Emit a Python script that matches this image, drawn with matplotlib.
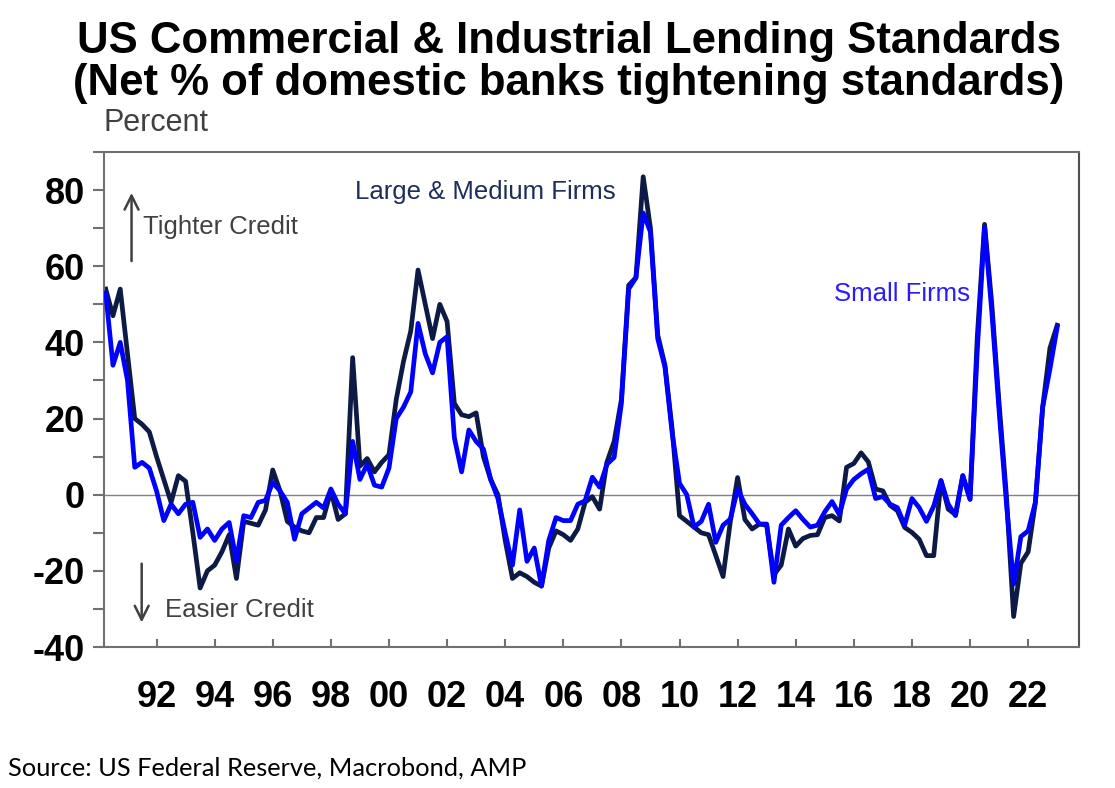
import matplotlib
matplotlib.use("Agg")
import matplotlib.pyplot as plt
import numpy as np

plt.rcParams['font.family'] = ['Liberation Sans', 'DejaVu Sans']
plt.rcParams['axes.unicode_minus'] = False

# Quarterly survey dates, starting 1990 Q2
start_year = 1990.25
large_medium = [54, 47, 54, 37, 20, 18.5, 16.5, 10, 4, -2,
                5, 3.5, -10, -24.5, -20, -18.5, -15, -10.5, -22, -7,
                -7.5, -8, -4, 6.5, 1, -7, -8.5, -9.5, -10, -6,
                -6, 1, -6.5, -5, 36, 7.5, 9.5, 6, 8.5, 10.5,
                25, 35, 43, 59, 50, 41, 50, 45.5, 24, 21,
                20.5, 21.5, 10, 4, 0, -12, -22, -20.5, -21.5, -23,
                -24, -14, -9.5, -10.5, -12, -9, -2, -0.5, -3.8, 8.5,
                14, 25, 55, 57, 83.5, 70, 42, 34, 17, -5.5,
                -7, -8.5, -10, -10.5, -16, -21.5, -7, 4.5, -6.5, -9,
                -7.7, -8, -21, -18.5, -9, -13.5, -11.5, -10.7, -10.5, -6,
                -5.5, -6.9, 7.2, 8.2, 11, 8.6, 1.5, 1, -2.8, -4.2,
                -8.6, -9.9, -11.7, -16, -16, 3.7, -3.8, -5.2, 5, -1.2,
                41.6, 71, 50, 24, 0, -32, -18, -15, -2, 23,
                38.5, 44.5]
small = [53, 34, 40, 30, 7.2, 8.5, 7, 1, -6.8, -2.5,
         -5, -2.5, -2, -11.2, -9, -12, -9, -7.3, -17.4, -5.5,
         -6, -2, -1.5, 3.2, 1, -2, -11.7, -5, -3.5, -2,
         -3.5, 1.5, -2.5, -5, 14, 4, 8, 2.5, 2, 7,
         20, 23, 27, 45, 37, 32, 40, 41.5, 15, 6,
         17, 14, 12, 4, -1, -10, -18.5, -4, -17.5, -14,
         -24, -12, -6, -6.8, -6.8, -2.5, -1.6, 4.6, 2, 8,
         9.8, 24, 54, 57, 74, 69, 41, 33.5, 16, 3,
         0, -8.5, -7, -2.5, -12.5, -8, -6.4, 1.5, -2.5, -5,
         -7.7, -7.7, -23, -8, -6, -4.2, -6.5, -8.5, -8, -4.5,
         -1.8, -5.2, 1.5, 4, 5.5, 6.7, -1, -0.5, -2.5, -3.4,
         -8, -1, -3.4, -7, -3, 3.7, -2.5, -5.5, 5, -1.2,
         38, 70.3, 48, 22, -2, -23.5, -11, -9.5, -2, 23,
         33, 44]
dates = start_year + 0.25 * np.arange(len(large_medium))

x_ticks = list(range(1992, 2023, 2))
x_labels = [f"{y % 100:02d}" for y in x_ticks]
y_major = [-40, -20, 0, 20, 40, 60, 80]
y_minor = list(range(-30, 91, 20))

fig = plt.figure(figsize=(11.15, 7.88), dpi=100)
ax = fig.add_axes([0.0935, 0.1789, 0.8742, 0.6282])

ax.axhline(0, color='#808080', lw=1.0, zorder=1)
ax.plot(dates, large_medium, color='#0c1a45', lw=3.4, zorder=2, solid_joinstyle='round')
ax.plot(dates, small, color='#0000ff', lw=3.4, zorder=3, solid_joinstyle='round')

ax.set_xlim(1990.2, 2023.75)
ax.set_ylim(-40, 90)
ax.set_xticks(x_ticks)
ax.set_xticklabels(x_labels)
ax.set_yticks(y_major)
ax.set_yticklabels([str(v) for v in y_major])
ax.set_yticks(y_minor, minor=True)

for s in ax.spines.values():
    s.set_color('#707070')
    s.set_linewidth(1.5)
ax.spines['right'].set_color('#505050')

ax.tick_params(axis='x', direction='in', length=6, width=1.5, color='#707070',
               pad=24, labelsize=26)
ax.tick_params(axis='y', which='both', direction='out', length=8, width=1.5,
               color='#707070', pad=6, labelsize=26)
for lab in ax.get_xticklabels() + ax.get_yticklabels():
    lab.set_fontweight('bold')

# annotations
ax.annotate('', xy=(0.028, 0.923), xytext=(0.028, 0.774), xycoords='axes fraction',
            arrowprops=dict(arrowstyle='->', color='#404040', lw=1.8, mutation_scale=25))
ax.annotate('', xy=(0.0384, 0.044), xytext=(0.0384, 0.174), xycoords='axes fraction',
            arrowprops=dict(arrowstyle='->', color='#404040', lw=1.8, mutation_scale=25))
ax.text(0.0397, 0.848, 'Tighter Credit', transform=ax.transAxes, fontsize=18.5,
        color='#404040', va='center', ha='left')
ax.text(0.0623, 0.075, 'Easier Credit', transform=ax.transAxes, fontsize=18.5,
        color='#404040', va='center', ha='left')
ax.text(0.257, 0.919, 'Large & Medium Firms', transform=ax.transAxes, fontsize=18.5,
        color='#1f2d5c', va='center', ha='left')
ax.text(0.749, 0.713, 'Small Firms', transform=ax.transAxes, fontsize=18.5,
        color='#2a1aff', va='center', ha='left')

fig.text(0.510, 0.947, 'US Commercial & Industrial Lending Standards', ha='center',
         va='center', fontsize=31.5, fontweight='bold', color='black')
fig.text(0.510, 0.894, '(Net % of domestic banks tightening standards)', ha='center',
         va='center', fontsize=31.5, fontweight='bold', color='black')
fig.text(0.0924, 0.844, 'Percent', ha='left', va='center', fontsize=22, color='#404040')
fig.text(0.007, 0.025, 'Source: US Federal Reserve, Macrobond, AMP', ha='left',
         va='center', fontsize=18.3, color='black', family=['Lato', 'DejaVu Sans'])

fig.savefig('out.png', dpi=100)
